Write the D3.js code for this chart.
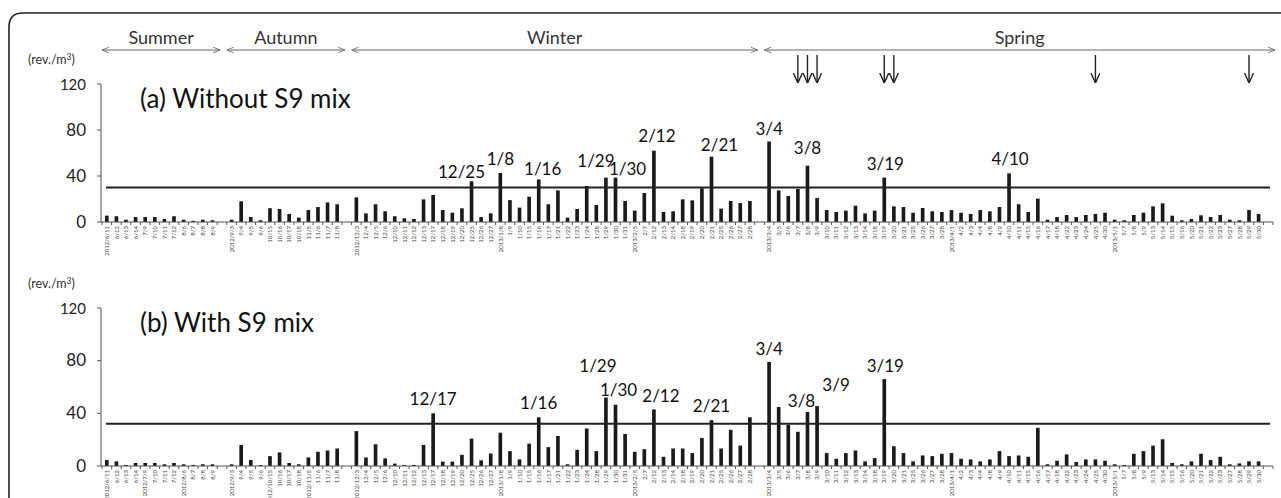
<!DOCTYPE html>
<html>
<head>
<meta charset="utf-8">
<script src="https://cdn.jsdelivr.net/npm/d3@7"></script>
<style>
  body { margin: 0; background: #fff; }
  svg { display: block; font-family: Lato, "Open Sans", sans-serif; }
</style>
</head>
<body>
<script>
// tick labels (empty string = spacer between seasons)
const ticksA = [
  "2012/6/11","6/12","6/13","6/14","7/9","7/10","7/11","7/12","8/6","8/7","8/8","8/9","",
  "2012/9/3","9/4","9/5","9/6","10/15","10/16","10/17","10/18","11/5","11/6","11/7","11/8","",
  "2012/12/3","12/4","12/5","12/6","12/10","12/11","12/12","12/13","12/17","12/18","12/19","12/20","12/25","12/26","12/27",
  "2013/1/8","1/9","1/10","1/15","1/16","1/17","1/21","1/22","1/23","1/24","1/28","1/29","1/30","1/31",
  "2013/2/5","2/7","2/12","2/13","2/14","2/18","2/19","2/20","2/21","2/25","2/26","2/27","2/28","",
  "2013/3/4","3/5","3/6","3/7","3/8","3/9","3/10","3/11","3/12","3/13","3/14","3/18","3/19","3/20","3/21","3/25","3/26","3/27","3/28",
  "2013/4/1","4/2","4/3","4/4","4/8","4/9","4/10","4/11","4/15","4/16","4/17","4/18","4/22","4/23","4/24","4/25","4/30",
  "2013/5/1","5/7","5/8","5/9","5/13","5/14","5/15","5/16","5/20","5/21","5/22","5/23","5/27","5/28","5/29","5/30",""
];
// panel (b) writes the year on a few more ticks
const ticksB = ticksA.map(t => ({"7/9": "2012/7/9", "8/6": "2012/8/6", "10/15": "2012/10/15", "11/5": "2012/11/5"}[t] || t));

// rev./m3, without S9 mix
const valuesA = [
  5.5,5,2,4.3,4.3,4.3,2.6,5,2,1,2,1.5,null,
  2,18,4.3,1.5,12,11.3,7,3.8,10.4,13,17,15.4,null,
  21.4,7.5,15.4,9.3,5,3.2,2.6,19.7,23.5,10.4,8.1,11.9,35.4,4.3,7.5,
  42.6,19,12.5,22,37,15.4,27.5,3.8,11.3,31.3,14.8,38.6,38.6,18.3,
  9.9,25.2,62,8.7,9.3,19.7,18.8,29.3,56.8,11.6,18.3,16.5,18.3,null,
  70,27.5,22.6,28.7,49,20.9,10.4,8.7,9.9,14.2,7.5,9.9,38.6,13.6,13,8.1,12.2,9.3,8.7,
  10.4,8.1,7,10.4,9.3,13,42.3,15.4,8.7,20.3,2,4.3,6.1,4.3,6.1,7,8.1,
  2,1.5,6.1,8.1,13.6,16.2,5.5,1.5,2.6,5.8,4.3,6.1,2,1.5,10.4,7,null
];
// rev./m3, with S9 mix
const valuesB = [
  4.5,3.5,0.8,2.3,2.3,2.3,1.3,2.3,1.3,0.8,1.3,1.3,null,
  1.3,16,4.5,0.8,7.5,10.3,2.3,1.3,6.5,10.8,11.8,13.3,null,
  26.5,6.5,16.5,5.8,1.8,0.8,0.8,16,40,3.3,3.3,8.5,20.8,4.3,9.5,
  25.3,11.3,5,17,37,14.3,22.8,1.3,12.3,28.5,11.3,52,46.5,24.3,
  10.8,12.8,43,7,13.3,13.3,9.8,21.3,34.8,13.3,27.5,15.5,37,null,
  79,44.8,31.3,26,41,45.5,9.8,5.5,9.8,11.8,3.5,6,66,15,9.8,3.5,8,7.5,9.3,
  9.8,5.5,5,3.5,5,11.3,7.5,8,7,29,1.3,4,8.8,3,5,5,4,
  1.3,0.8,9.3,11.3,15.5,20.3,2.3,1.3,3.5,9.3,4.5,7,1.3,2,3.5,3.5,null
];

const thresholdA = 30;
const thresholdB = 32;
const yTicks = [0, 40, 80, 120];

// labelled peaks
const peaksA = ["12/25","1/8","1/16","1/29","1/30","2/12","2/21","3/4","3/8","3/19","4/10"];
const peaksB = ["12/17","1/16","1/29","1/30","2/12","2/21","3/4","3/8","3/9","3/19"];

// seasons: name, first and last tick
const seasons = ["Summer","Autumn","Winter","Spring"];
const seasonStart = ["6/11","9/3","12/3","3/4"];
const seasonEnd = ["8/9","11/8","2/28","5/30"];

// days marked with an arrow
const eventDays = ["3/7","3/8","3/9","3/19","3/20","4/25","5/29"];

const W = 1281, H = 498;
const svg = d3.select("body").append("svg")
    .attr("width", W)
    .attr("height", H)

// rounded frame
svg.append("path")
    .attr("d", "M9,498 V27 Q9,13 23,13 H1281")
    .attr("fill", "none")
    .attr("stroke", "#222")
    .attr("stroke-width", 1.6)

const x = d3.scaleBand()
    .domain(d3.range(ticksA.length))
    .range([102, 1273])
    .paddingInner(0.62)
    .paddingOuter(0.31)
const step = x.step()
const cx = i => x(i) + x.bandwidth() / 2
// "1/8" also finds "2013/1/8"
const findTick = (ticks, p) => ticks.findIndex(t => t === p || t.endsWith("/" + p))

// arrow heads
const defs = svg.append("defs")
defs.append("marker")
    .attr("id", "open")
    .attr("viewBox", "0 0 10 10")
    .attr("refX", 10).attr("refY", 5)
    .attr("markerWidth", 7).attr("markerHeight", 7)
    .attr("markerUnits", "userSpaceOnUse")
    .attr("orient", "auto-start-reverse")
    .append("path")
    .attr("d", "M0,1 L10,5 L0,9")
    .attr("fill", "none")
    .attr("stroke", "#666")
    .attr("stroke-width", 1.2)
defs.append("marker")
    .attr("id", "down")
    .attr("viewBox", "0 0 10 10")
    .attr("refX", 10).attr("refY", 5)
    .attr("markerWidth", 10).attr("markerHeight", 10)
    .attr("markerUnits", "userSpaceOnUse")
    .attr("orient", "auto")
    .append("path")
    .attr("d", "M0,0.5 L10,5 L0,9.5")
    .attr("fill", "none")
    .attr("stroke", "#222")
    .attr("stroke-width", 1.4)

// seasons
seasons.forEach((s, k) => {
    const x1 = x(findTick(ticksA, seasonStart[k])) - 3
    const x2 = k === 3 ? 1275 : x(findTick(ticksA, seasonEnd[k])) + step
    svg.append("line")
        .attr("x1", x1).attr("x2", x2)
        .attr("y1", 50).attr("y2", 50)
        .attr("stroke", "#666")
        .attr("stroke-width", 1)
        .attr("marker-start", "url(#open)")
        .attr("marker-end", "url(#open)")
    svg.append("text")
        .text(s)
        .attr("x", (x1 + x2) / 2)
        .attr("y", 44)
        .attr("text-anchor", "middle")
        .attr("font-size", 18)
        .attr("fill", "#333")
})

svg.selectAll(".event")
    .data(eventDays)
    .enter()
    .append("line")
    .attr("class", "event")
    .attr("x1", d => cx(findTick(ticksA, d)))
    .attr("x2", d => cx(findTick(ticksA, d)))
    .attr("y1", 55)
    .attr("y2", 83)
    .attr("stroke", "#222")
    .attr("stroke-width", 1.4)
    .attr("marker-end", "url(#down)")

// label nudges: [dx, gap between bar top and baseline]
const nudgeA = {"12/25": [-10, 3], "1/8": [0, 8], "1/16": [4, 4], "1/29": [-10, 11], "1/30": [12, 3],
    "2/12": [3, 9], "2/21": [8, 6], "3/4": [0, 7], "3/8": [0, 12], "3/19": [1, 8], "4/10": [1, 8]}
const nudgeB = {"12/17": [0, 8], "1/16": [0, 8], "1/29": [-8, 26], "1/30": [3, 9], "2/12": [7, 7],
    "2/21": [0, 8], "3/4": [0, 7], "3/8": [-6, 5], "3/9": [19, 15], "3/19": [1, 7]}

function panel(values, ticks, threshold, peaks, nudge, y0, y120, title) {
    const g = svg.append("g")
    const y = d3.scaleLinear().domain([0, 120]).range([y0, y120])

    const unit = g.append("text")
        .attr("x", 28)
        .attr("y", y120 - 20)
        .attr("font-size", 12.5)
        .attr("fill", "#333")
    unit.append("tspan").text("(rev./m")
    unit.append("tspan").text("3").attr("dy", -4).attr("font-size", 8.5)
    unit.append("tspan").text(")").attr("dy", 4)

    // y axis
    g.append("line")
        .attr("x1", 101).attr("x2", 101)
        .attr("y1", y(0)).attr("y2", y(120))
        .attr("stroke", "#555")
    g.selectAll(".yt")
        .data(yTicks)
        .enter()
        .append("line")
        .attr("x1", 97).attr("x2", 101)
        .attr("y1", d => y(d)).attr("y2", d => y(d))
        .attr("stroke", "#555")
    g.selectAll(".yl")
        .data(yTicks)
        .enter()
        .append("text")
        .text(d => d)
        .attr("x", 86)
        .attr("y", d => y(d) + 5.5)
        .attr("text-anchor", "end")
        .attr("font-size", d => d === 120 ? 15 : 17)
        .attr("fill", "#222")

    g.append("text")
        .text(title)
        .attr("x", 140)
        .attr("y", y120 + 24)
        .attr("font-size", 26)
        .attr("fill", "#111")

    // bars
    const bars = values.map((v, i) => ({i, v})).filter(d => d.v !== null)
    g.selectAll(".bar")
        .data(bars)
        .enter()
        .append("rect")
        .attr("x", d => x(d.i))
        .attr("y", d => y(d.v))
        .attr("width", x.bandwidth())
        .attr("height", d => y(0) - y(d.v))
        .attr("fill", "#1a1a1a")

    // x axis, ticks between categories
    g.append("line")
        .attr("x1", 101).attr("x2", 1273)
        .attr("y1", y(0)).attr("y2", y(0))
        .attr("stroke", "#555")
    g.selectAll(".xt")
        .data(d3.range(ticks.length + 1))
        .enter()
        .append("line")
        .attr("x1", i => 102 + i * step).attr("x2", i => 102 + i * step)
        .attr("y1", y(0)).attr("y2", y(0) + 3)
        .attr("stroke", "#555")
    g.selectAll(".xl")
        .data(ticks)
        .enter()
        .append("text")
        .text(d => d)
        .attr("transform", (d, i) => `translate(${cx(i) + 2.2},${y(0) + 4}) rotate(-90)`)
        .attr("text-anchor", "end")
        .attr("font-size", 6)
        .attr("fill", "#444")

    // threshold
    g.append("line")
        .attr("x1", 106).attr("x2", 1270)
        .attr("y1", y(threshold)).attr("y2", y(threshold))
        .attr("stroke", "#222")
        .attr("stroke-width", 2)

    // peak labels
    g.selectAll(".peak")
        .data(peaks)
        .enter()
        .append("text")
        .text(p => p)
        .attr("x", p => cx(findTick(ticks, p)) + (nudge[p] || [0, 8])[0])
        .attr("y", p => y(values[findTick(ticks, p)]) - (nudge[p] || [0, 8])[1])
        .attr("text-anchor", "middle")
        .attr("font-size", 17)
        .attr("fill", "#111")
}

panel(valuesA, ticksA, thresholdA, peaksA, nudgeA, 222, 84, "(a) Without S9 mix")
panel(valuesB, ticksB, thresholdB, peaksB, nudgeB, 466, 308, "(b) With S9 mix")
</script>
</body>
</html>
